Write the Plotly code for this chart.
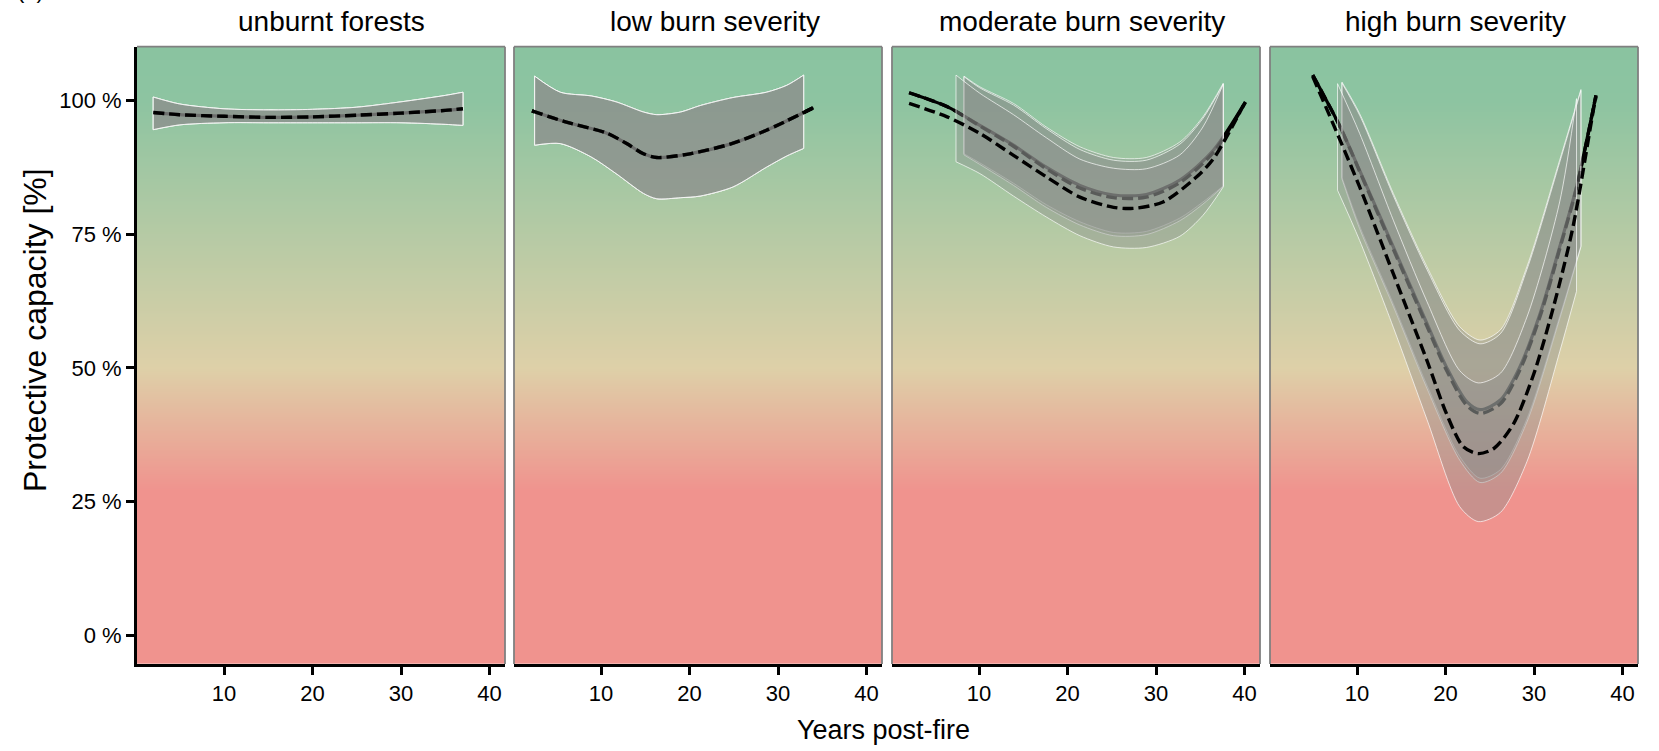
import plotly.graph_objects as go

# ---------------- data ----------------
panel_titles = ["unburnt forests", "low burn severity", "moderate burn severity", "high burn severity"]
x_ticks = [10, 20, 30, 40]
y_ticks = [0, 25, 50, 75, 100]
y_tick_labels = ["0 %", "25 %", "50 %", "75 %", "100 %"]

# unburnt forests (all three model fits coincide)
unb_x = [2, 5, 10, 15, 20, 25, 30, 35, 37]
unb_fit = [97.7, 97.3, 97.0, 96.8, 96.9, 97.2, 97.6, 98.1, 98.4]
unb_upper = [100.6, 99.3, 98.4, 98.2, 98.3, 98.7, 99.7, 100.9, 101.5]
unb_lower = [94.5, 95.4, 95.8, 95.8, 95.8, 95.8, 95.8, 95.5, 95.3]

# low burn severity (all three model fits coincide)
low_x = [2.2, 6.1, 10.6, 12.9, 14.8, 16.3, 19.7, 24.6, 28.7, 34.0]
low_fit = [98.0, 95.9, 93.9, 91.9, 90.0, 89.3, 89.9, 91.8, 94.4, 98.6]
low_band_x = [2.5, 5.4, 8.9, 11.7, 14.8, 16.3, 19.0, 21.2, 24.9, 28.7, 31.0, 32.9]
low_upper = [104.5, 101.5, 100.8, 99.7, 97.8, 97.3, 97.8, 99.0, 100.5, 101.5, 102.8, 104.7]
low_lower = [91.6, 91.9, 89.4, 86.3, 82.6, 81.6, 81.8, 82.1, 83.8, 87.5, 89.6, 91.0]

# moderate burn severity
mod_x = [2.1, 6.4, 10.1, 13.9, 17.6, 21.4, 25.2, 28.9, 32.7, 36.5, 40.1]
mod_solid = [101.4, 98.8, 95.3, 91.6, 87.5, 84.1, 82.3, 82.4, 85.1, 90.7, 99.7]
mod_grey = [101.4, 98.8, 95.2, 91.4, 87.2, 83.6, 81.8, 81.9, 84.6, 90.3, 99.6]
mod_dash_x = [2.1, 6.4, 10.1, 13.9, 17.6, 21.4, 25.2, 27.4, 30.8, 34.6, 36.5, 39.9]
mod_dash = [99.4, 96.9, 93.8, 89.7, 85.7, 81.9, 80.0, 79.8, 81.0, 85.7, 89.1, 99.1]
mod_band_x = [8.3, 10.1, 13.9, 17.6, 21.4, 25.2, 28.9, 32.7, 35.3, 37.6]
mod_solid_upper = [104.5, 102.5, 99.4, 95.0, 91.3, 89.3, 89.3, 92.2, 96.9, 103.2]
mod_solid_lower = [90.0, 88.3, 84.5, 80.5, 77.3, 75.3, 75.5, 78.0, 81.0, 84.0]
mod_grey_upper = [104.4, 102.3, 99.1, 94.7, 90.8, 88.8, 88.8, 91.8, 96.6, 103.0]
mod_grey_lower = [89.8, 88.0, 84.1, 80.0, 76.7, 74.7, 74.9, 77.5, 80.6, 83.9]
mod_dash_band_x = [7.4, 10.1, 13.9, 17.6, 21.4, 25.2, 28.9, 32.7, 35.3, 37.6]
mod_dash_upper = [104.7, 101.3, 97.3, 93.0, 89.0, 87.3, 87.2, 89.8, 95.0, 103.0]
mod_dash_lower = [88.5, 86.3, 82.1, 78.2, 74.7, 72.6, 72.5, 74.6, 78.5, 83.8]

# high burn severity
high_x = [5.0, 8.1, 10.3, 14.1, 17.9, 20.1, 22.4, 23.9, 26.2, 28.4, 30.7, 32.9, 34.8, 37.0]
high_solid = [104.7, 95.0, 86.9, 72.6, 58.3, 50.2, 43.7, 42.2, 44.0, 50.2, 60.2, 72.6, 83.8, 100.9]
high_grey = [104.7, 95.0, 86.7, 72.2, 57.8, 49.6, 43.0, 41.5, 43.3, 49.6, 59.7, 72.2, 83.6, 100.9]
high_dash_x = [5.0, 8.1, 10.3, 14.1, 17.9, 20.1, 22.0, 23.7, 25.5, 27.7, 30.0, 32.2, 34.4, 36.7, 37.0]
high_dash = [104.4, 92.5, 83.8, 67.6, 51.4, 41.5, 35.3, 34.0, 35.0, 39.6, 49.0, 61.4, 76.3, 98.1, 100.6]
high_band_x = [8.3, 10.3, 14.1, 17.9, 21.6, 23.9, 26.2, 29.2, 32.9, 35.3]
high_solid_upper = [103.4, 97.5, 82.6, 68.9, 57.7, 55.2, 57.1, 68.9, 88.8, 102.0]
high_solid_lower = [85.6, 76.5, 62.0, 46.8, 33.5, 29.4, 31.0, 40.5, 59.6, 72.8]
high_grey_upper = [103.2, 97.2, 82.2, 68.4, 57.0, 54.5, 56.4, 68.4, 88.4, 101.8]
high_grey_lower = [85.3, 76.0, 61.5, 46.2, 32.8, 28.6, 30.3, 39.9, 59.2, 72.6]
high_dash_band_x = [7.8, 10.3, 14.1, 17.9, 21.6, 23.7, 26.2, 29.2, 32.9, 34.8]
high_dash_upper = [103.1, 93.8, 77.6, 62.4, 49.5, 47.2, 49.0, 59.5, 81.0, 100.3]
high_dash_lower = [83.2, 73.8, 57.6, 40.4, 24.1, 21.3, 23.0, 32.5, 53.0, 64.3]

# background gradient levels (protective capacity -> colour)
bg_levels = [-10, 27, 50, 100, 115]
bg_colors = ["#F0938E", "#F0938E", "#DED0A8", "#8DC4A1", "#88C3A0"]

# ---------------- figure set-up ----------------
W, H = 1659, 751
panel_left = [137, 514, 892, 1270]
panel_w = 368
top_px, bot_px = 46.7, 664.0
x_range = [0.17, 41.75]
y_range = [-5.3, 110.0]
FONT = "Liberation Sans, Arial, sans-serif"

panels = [
    dict(solid=(unb_x, unb_fit), grey=(unb_x, unb_fit), dash=(unb_x, unb_fit),
         solid_band=(unb_x, unb_lower, unb_upper), grey_band=(unb_x, unb_lower, unb_upper),
         dash_band=(unb_x, unb_lower, unb_upper)),
    dict(solid=(low_x, low_fit), grey=(low_x, low_fit), dash=(low_x, low_fit),
         solid_band=(low_band_x, low_lower, low_upper), grey_band=(low_band_x, low_lower, low_upper),
         dash_band=(low_band_x, low_lower, low_upper)),
    dict(solid=(mod_x, mod_solid), grey=(mod_x, mod_grey), dash=(mod_dash_x, mod_dash),
         solid_band=(mod_band_x, mod_solid_lower, mod_solid_upper),
         grey_band=(mod_band_x, mod_grey_lower, mod_grey_upper),
         dash_band=(mod_dash_band_x, mod_dash_lower, mod_dash_upper)),
    dict(solid=(high_x, high_solid), grey=(high_x, high_grey), dash=(high_dash_x, high_dash),
         solid_band=(high_band_x, high_solid_lower, high_solid_upper),
         grey_band=(high_band_x, high_grey_lower, high_grey_upper),
         dash_band=(high_dash_band_x, high_dash_lower, high_dash_upper)),
]

zmin, zmax = bg_levels[0], bg_levels[-1]
colorscale = [[(v - zmin) / (zmax - zmin), c] for v, c in zip(bg_levels, bg_colors)]
bg_y = [zmin + 0.5 * i for i in range(int((zmax - zmin) / 0.5) + 1)]
bg_x = [-1, 43]
bg_z = [[v, v] for v in bg_y]

BAND_FILL = "rgba(140,142,140,0.40)"
BAND_EDGE = "rgba(255,255,255,0.75)"
DASH = "11px,5px"

fig = go.Figure()


def add_band(xa, ya, band):
    bx, lo, up = band
    fig.add_trace(go.Scatter(x=bx, y=lo, mode="lines", line=dict(color=BAND_EDGE, width=0.9, shape="spline", smoothing=0.8),
                             xaxis=xa, yaxis=ya, hoverinfo="skip"))
    fig.add_trace(go.Scatter(x=bx, y=up, mode="lines", line=dict(color=BAND_EDGE, width=0.9, shape="spline", smoothing=0.8),
                             fill="tonexty", fillcolor=BAND_FILL, xaxis=xa, yaxis=ya, hoverinfo="skip"))
    # vertical ends of the ribbon
    for i in (0, -1):
        fig.add_trace(go.Scatter(x=[bx[i], bx[i]], y=[lo[i], up[i]], mode="lines",
                                 line=dict(color=BAND_EDGE, width=0.9), xaxis=xa, yaxis=ya, hoverinfo="skip"))


for k, p in enumerate(panels):
    n = "" if k == 0 else str(k + 1)
    xa, ya = "x" + n, "y" + n
    fig.add_trace(go.Heatmap(x=bg_x, y=bg_y, z=bg_z, colorscale=colorscale, zmin=zmin, zmax=zmax,
                             zsmooth="best", showscale=False, hoverinfo="skip", xaxis=xa, yaxis=ya))
    sx, sy = p["solid"]
    fig.add_trace(go.Scatter(x=sx, y=sy, mode="lines", line=dict(color="black", width=3.2, shape="spline", smoothing=0.8),
                             xaxis=xa, yaxis=ya))
    add_band(xa, ya, p["solid_band"])
    gx, gy = p["grey"]
    fig.add_trace(go.Scatter(x=gx, y=gy, mode="lines",
                             line=dict(color="black", width=3.4, dash=DASH, shape="spline", smoothing=0.8),
                             xaxis=xa, yaxis=ya))
    add_band(xa, ya, p["grey_band"])
    add_band(xa, ya, p["dash_band"])
    dx, dy = p["dash"]
    fig.add_trace(go.Scatter(x=dx, y=dy, mode="lines",
                             line=dict(color="black", width=3.4, dash=DASH, shape="spline", smoothing=0.8),
                             xaxis=xa, yaxis=ya))

layout = dict(width=W, height=H, margin=dict(l=0, r=0, t=0, b=0), paper_bgcolor="white",
              plot_bgcolor="white", showlegend=False, font=dict(family=FONT, color="black"))
shapes = []
annotations = []
ydom = [1 - bot_px / H, 1 - top_px / H]
for k in range(4):
    n = "" if k == 0 else str(k + 1)
    x0 = panel_left[k] / W
    x1 = (panel_left[k] + panel_w) / W
    layout["xaxis" + n] = dict(domain=[x0, x1], range=x_range, anchor="y" + n, tickvals=x_ticks,
                               ticks="outside", ticklen=8, tickwidth=2.5, tickcolor="black",
                               showline=True, linecolor="black", linewidth=3, showgrid=False,
                               zeroline=False, tickfont=dict(size=22, family=FONT, color="black"),
                               fixedrange=True)
    ycfg = dict(domain=ydom, range=y_range, anchor="x" + n, showgrid=False, zeroline=False, fixedrange=True)
    if k == 0:
        ycfg.update(tickvals=y_ticks, ticktext=y_tick_labels, ticks="outside", ticklen=8, tickwidth=2.5,
                    tickcolor="black", showline=True, linecolor="black", linewidth=3,
                    tickfont=dict(size=22, family=FONT, color="black"))
    else:
        ycfg.update(showticklabels=False, ticks="", showline=False)
    layout["yaxis" + n] = ycfg
    xd, yd = "x" + n + " domain", "y" + n + " domain"
    edge = dict(color="#808080", width=1.8)
    shapes.append(dict(type="line", xref=xd, yref=yd, x0=0, x1=1, y0=1, y1=1, line=edge, layer="above"))
    shapes.append(dict(type="line", xref=xd, yref=yd, x0=1, x1=1, y0=0, y1=1, line=edge, layer="above"))
    if k > 0:
        shapes.append(dict(type="line", xref=xd, yref=yd, x0=0, x1=0, y0=0, y1=1, line=edge, layer="above"))

title_cx = [331, 715, 1082, 1455]
for k, t in enumerate(panel_titles):
    annotations.append(dict(text=t, x=title_cx[k] / W, y=1 - 21 / H, xref="paper", yref="paper",
                            xanchor="center", yanchor="middle", showarrow=False,
                            font=dict(size=28, family=FONT, color="black")))
annotations.append(dict(text="Protective capacity [%]", x=35 / W, y=1 - 330 / H, xref="paper", yref="paper",
                        xanchor="center", yanchor="middle", textangle=-90, showarrow=False,
                        font=dict(size=32, family=FONT, color="black")))
annotations.append(dict(text="Years post-fire", x=883 / W, y=1 - 730 / H, xref="paper", yref="paper",
                        xanchor="center", yanchor="middle", showarrow=False,
                        font=dict(size=27, family=FONT, color="black")))
annotations.append(dict(text="(a)", x=15 / W, y=1, xref="paper", yref="paper", xanchor="left",
                        yanchor="bottom", yshift=-5, showarrow=False,
                        font=dict(size=22, family=FONT, color="black")))
layout["shapes"] = shapes
layout["annotations"] = annotations
fig.update_layout(**layout)
fig.write_html("out.html")
